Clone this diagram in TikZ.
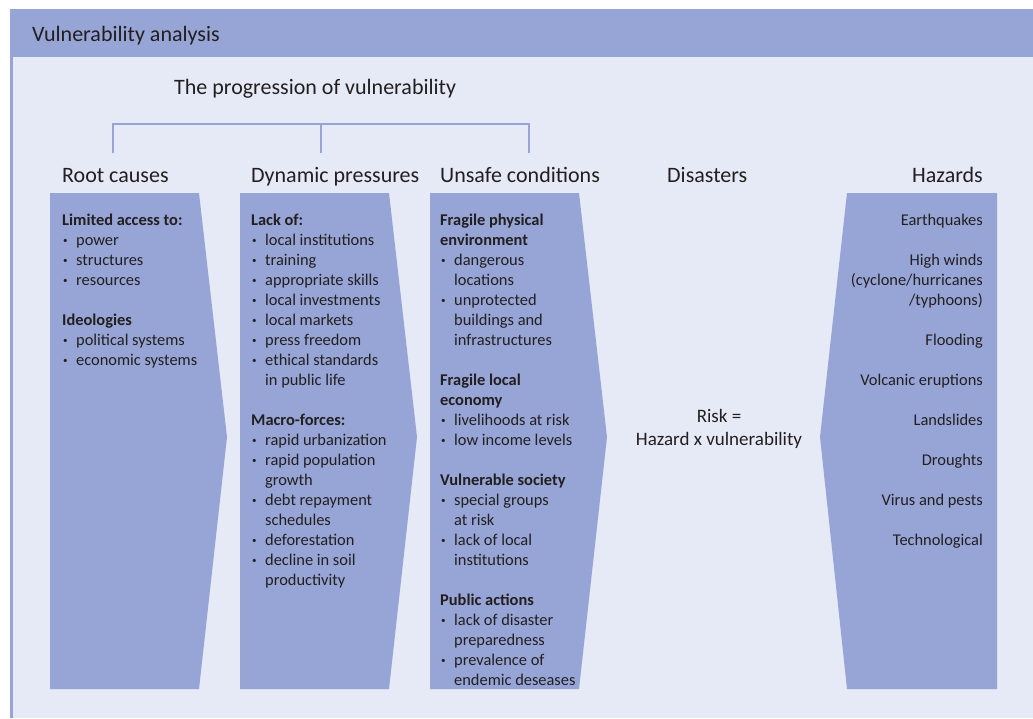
\documentclass[tikz,border=0pt]{standalone}
\usepackage{fontspec}
\setmainfont{Carlito}
\definecolor{shapeblue}{RGB}{150,165,213}
\definecolor{paleback}{RGB}{230,233,246}
\definecolor{inktext}{RGB}{35,31,32}
\newcommand\mybul{\makebox[14pt][l]{\hspace{0.8pt}\raisebox{1.5pt}{\fontsize{9}{9}\selectfont\textbullet}}}
\newcommand\bitem[1]{\mybul#1}
\newcommand\cont[1]{\hspace*{14pt}#1}
\begin{document}
\begin{tikzpicture}[x=1pt,y=-1pt,
  every node/.style={inner sep=0pt,text=inktext},
  listtext/.style={align=left,anchor=north west,font=\fontsize{16.4}{20}\selectfont},
  hazlist/.style={align=right,anchor=north east,font=\fontsize{16.4}{20}\selectfont},
  colhead/.style={font=\fontsize{22}{26}\selectfont},
  chevron/.style={fill=shapeblue},
  bracket/.style={draw=shapeblue,line width=2.4pt}]
\useasboundingbox (0,0) rectangle (1033,718);
\fill[white] (0,0) rectangle (1033,718);
\fill[paleback] (10,9) rectangle (1033,718);
\fill[shapeblue] (10,9) rectangle (1033,57);
\fill[shapeblue] (10,9) rectangle (12.8,718);
% chevrons
\fill[chevron] (50,193) -- (199,193) -- (227,437) -- (199,689) -- (50,689) -- cycle;
\fill[chevron] (240,193) -- (389,193) -- (417,437) -- (389,689) -- (240,689) -- cycle;
\fill[chevron] (430,193) -- (579,193) -- (607,437) -- (579,689) -- (430,689) -- cycle;
\fill[chevron] (847,193) -- (997,193) -- (997,689) -- (847,689) -- (820,437) -- cycle;
% bracket
\coordinate (bl) at (113,153);
\coordinate (bm) at (321,153);
\coordinate (br) at (529,153);
\draw[bracket] (bl) |- (321,124) -| (br);
\draw[bracket] (321,124) -- (bm);
% titles
\node[colhead,anchor=base west] (title) at (32,41) {Vulnerability analysis};
\node[colhead,anchor=base west] (prog) at (174,94) {The progression of vulnerability};
\node[colhead,anchor=base west] (hroot) at (62,182) {Root causes};
\node[colhead,anchor=base west] (hdyn) at (251,182) {Dynamic pressures};
\node[colhead,anchor=base west] (hunsafe) at (440,182) {Unsafe conditions};
\node[colhead,anchor=base west] (hdis) at (667,182) {Disasters};
\node[colhead,anchor=base east] (hhaz) at (983,182) {Hazards};
% lists
\node[listtext] (root) at (62,211) {\strut\textbf{Limited access to:}\\
\bitem{power}\\
\bitem{structures}\\
\bitem{resources}\\[20pt]
\textbf{Ideologies}\\
\bitem{political systems}\\
\bitem{economic systems}};
\node[listtext] (dyn) at (251,211) {\strut\textbf{Lack of:}\\
\bitem{local institutions}\\
\bitem{training}\\
\bitem{appropriate skills}\\
\bitem{local investments}\\
\bitem{local markets}\\
\bitem{press freedom}\\
\bitem{ethical standards}\\
\cont{in public life}\\[20pt]
\textbf{Macro-forces:}\\
\bitem{rapid urbanization}\\
\bitem{rapid population}\\
\cont{growth}\\
\bitem{debt repayment}\\
\cont{schedules}\\
\bitem{deforestation}\\
\bitem{decline in soil}\\
\cont{productivity}};
\node[listtext] (unsafe) at (440,211) {\strut\textbf{Fragile physical}\\
\textbf{environment}\\
\bitem{dangerous}\\
\cont{locations}\\
\bitem{unprotected}\\
\cont{buildings and}\\
\cont{infrastructures}\\[20pt]
\textbf{Fragile local}\\
\textbf{economy}\\
\bitem{livelihoods at risk}\\
\bitem{low income levels}\\[20pt]
\textbf{Vulnerable society}\\
\bitem{special groups}\\
\cont{at risk}\\
\bitem{lack of local}\\
\cont{institutions}\\[20pt]
\textbf{Public actions}\\
\bitem{lack of disaster}\\
\cont{preparedness}\\
\bitem{prevalence of}\\
\cont{endemic deseases}};
\node[hazlist] (haz) at (983,211) {\strut Earthquakes\\[20pt]
High winds\\
(cyclone/hurricanes\\
/typhoons)\\[20pt]
Flooding\\[20pt]
Volcanic eruptions\\[20pt]
Landslides\\[20pt]
Droughts\\[20pt]
Virus and pests\\[20pt]
Technological};
\node[font=\fontsize{19}{23}\selectfont,anchor=base] (risk1) at (719,422) {Risk =};
\node[font=\fontsize{19}{23}\selectfont,anchor=base] (risk2) at (719,445) {Hazard x vulnerability};
\end{tikzpicture}
\end{document}
